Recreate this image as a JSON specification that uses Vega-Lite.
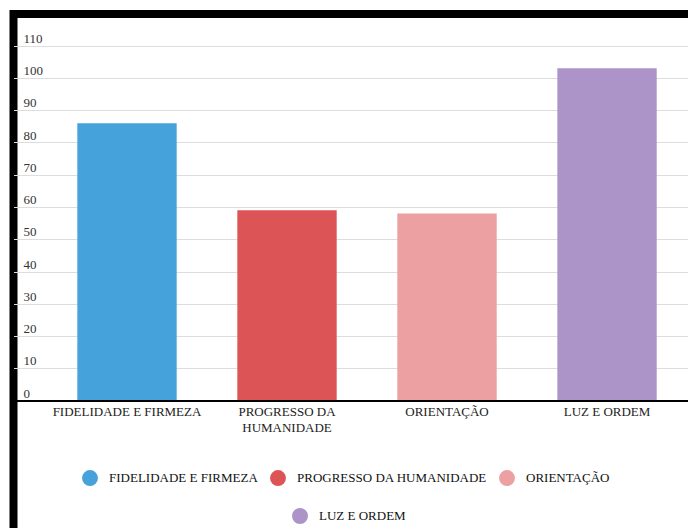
{
  "$schema": "https://vega.github.io/schema/vega-lite/v6.json",
  "autosize": {"type": "none"},
  "width": 674.5,
  "height": 514,
  "padding": {"left": 13.5, "top": 14, "right": 0, "bottom": 0},
  "background": "white",
  "data": {
    "values": [
      {"categoria": "FIDELIDADE E FIRMEZA", "votos": 86},
      {"categoria": "PROGRESSO DA HUMANIDADE", "votos": 59},
      {"categoria": "ORIENTAÇÃO", "votos": 58},
      {"categoria": "LUZ E ORDEM", "votos": 103}
    ]
  },
  "encoding": {
    "x": {
      "field": "categoria",
      "type": "nominal",
      "sort": null,
      "scale": {
        "domain": ["FIDELIDADE E FIRMEZA", "PROGRESSO DA HUMANIDADE", "ORIENTAÇÃO", "LUZ E ORDEM"],
        "paddingInner": 0.379,
        "paddingOuter": 0.2972,
        "align": 0.671
      },
      "axis": {
        "orient": "bottom",
        "offset": -127.4,
        "zindex": 1,
        "title": null,
        "grid": false,
        "domain": true,
        "domainColor": "#000000",
        "domainWidth": 2,
        "ticks": false,
        "tickSize": 0,
        "labelPadding": 5,
        "labelAngle": 0,
        "labelBaseline": "top",
        "labelFont": "Liberation Serif, Times New Roman, DejaVu Serif, serif",
        "labelFontSize": 13,
        "labelColor": "#222222",
        "labelLineHeight": 16,
        "labelLimit": 300,
        "labelExpr": "datum.value == 'PROGRESSO DA HUMANIDADE' ? ['PROGRESSO DA', 'HUMANIDADE'] : datum.value"
      }
    },
    "y": {
      "field": "votos",
      "type": "quantitative",
      "scale": {"domain": [-39.49, 119.83], "nice": false, "zero": false},
      "axis": {
        "title": null,
        "values": [0, 10, 20, 30, 40, 50, 60, 70, 80, 90, 100, 110],
        "domain": false,
        "ticks": false,
        "tickSize": 0,
        "grid": true,
        "gridColor": "#dddddd",
        "gridWidth": 1,
        "labelAlign": "left",
        "labelBaseline": "alphabetic",
        "labelPadding": -9.5,
        "labelOffset": -3.5,
        "labelOverlap": false,
        "labelFont": "Liberation Serif, Times New Roman, DejaVu Serif, serif",
        "labelFontSize": 13,
        "labelColor": "#333333"
      }
    }
  },
  "layer": [
    {
      "transform": [{"filter": "datum.categoria != 'LUZ E ORDEM'"}],
      "mark": {"type": "bar"},
      "encoding": {
        "color": {
          "field": "categoria",
          "type": "nominal",
          "sort": null,
          "scale": {
            "domain": ["FIDELIDADE E FIRMEZA", "PROGRESSO DA HUMANIDADE", "ORIENTAÇÃO"],
            "range": ["#46a2db", "#dd5457", "#eca0a2"]
          },
          "legend": {
            "orient": "none",
            "legendX": 68.5,
            "legendY": 456,
            "direction": "horizontal",
            "title": null,
            "padding": 0,
            "symbolType": "circle",
            "symbolSize": 254,
            "symbolStrokeWidth": 0,
            "labelFont": "Liberation Serif, Times New Roman, DejaVu Serif, serif",
            "labelFontSize": 13,
            "labelColor": "#111111",
            "labelOffset": 11,
            "labelLimit": 300,
            "columnPadding": 12
          }
        }
      }
    },
    {
      "transform": [{"filter": "datum.categoria == 'LUZ E ORDEM'"}],
      "mark": {"type": "bar"},
      "encoding": {
        "color": {
          "field": "categoria",
          "type": "nominal",
          "scale": {"domain": ["LUZ E ORDEM"], "range": ["#ac93c8"]},
          "legend": {
            "orient": "none",
            "legendX": 278.5,
            "legendY": 494,
            "direction": "horizontal",
            "title": null,
            "padding": 0,
            "symbolType": "circle",
            "symbolSize": 254,
            "symbolStrokeWidth": 0,
            "labelFont": "Liberation Serif, Times New Roman, DejaVu Serif, serif",
            "labelFontSize": 13,
            "labelColor": "#111111",
            "labelOffset": 11,
            "labelLimit": 300,
            "columnPadding": 12
          }
        }
      }
    }
  ],
  "resolve": {"scale": {"color": "independent"}, "legend": {"color": "independent"}},
  "config": {
    "view": {
      "fill": "white",
      "stroke": "#000000",
      "strokeWidth": 8,
      "strokeDash": [674.5, 1188.5, 514],
      "strokeCap": "square"
    }
  }
}
